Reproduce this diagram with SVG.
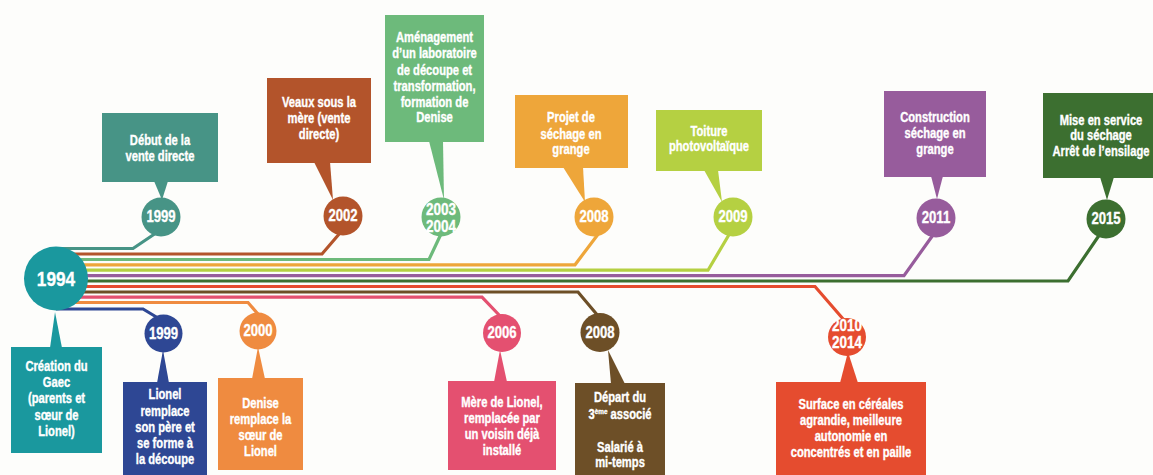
<svg xmlns="http://www.w3.org/2000/svg" width="1153" height="475" viewBox="0 0 1153 475">
<style>
.t{font-family:"Liberation Sans",Arial,sans-serif;font-weight:bold;fill:#fff;stroke:#fff;stroke-width:.35;text-anchor:middle;dominant-baseline:central;font-size:14px}
.y{font-size:16px}
.y2{font-size:16.5px}
.big{font-size:21px}
.ln{fill:none;stroke-width:3.2;stroke-linejoin:miter}
</style>
<rect width="1153" height="475" fill="#fdfdfb"/>
<g id="connectors">
<path class="ln" stroke="#479486" d="M56 248.5H133L156 233"/>
<path class="ln" stroke="#b3542b" d="M56 254H322L340 233"/>
<path class="ln" stroke="#6dba7b" d="M56 259.5H429L441 234"/>
<path class="ln" stroke="#eea63a" d="M56 264.8H575L599 233"/>
<path class="ln" stroke="#b5d042" d="M56 270.2H708L730 233"/>
<path class="ln" stroke="#975c9c" d="M56 275.6H904L933 235"/>
<path class="ln" stroke="#3c6f30" d="M56 281H1068L1100 234"/>
<path class="ln" stroke="#e54c2f" d="M56 286.5H815L844 320"/>
<path class="ln" stroke="#6d4f27" d="M56 292H578L599 317"/>
<path class="ln" stroke="#e45070" d="M56 297.2H482L501 317"/>
<path class="ln" stroke="#ef8b40" d="M56 302.5H248L258 314"/>
<path class="ln" stroke="#2e4794" d="M56 309H143L158 318"/>
</g>
<g id="n1994">
<circle cx="56" cy="278.5" r="32" fill="#1a989e"/>
<g transform="translate(56 0) scale(.82 1)"><text class="t big" x="0" y="279">1994</text></g>
</g>
<g id="creation">
<path d="M50 348L55 312L62 348Z" fill="#1a989e"/>
<rect x="11" y="347" width="91" height="106" fill="#1a989e"/>
<g transform="translate(56.5 0) scale(.8 1)">
<text class="t" x="0" y="367">Création du</text>
<text class="t" x="0" y="383">Gaec</text>
<text class="t" x="0" y="399">(parents et</text>
<text class="t" x="0" y="416">sœur de</text>
<text class="t" x="0" y="432">Lionel)</text>
</g>
</g>
<g id="n1999a">
<rect x="102" y="113" width="116" height="69" fill="#479486"/>
<path d="M154 181H168L162 200Z" fill="#479486"/>
<circle cx="161" cy="217" r="19.5" fill="#479486"/>
<g transform="translate(161 0) scale(.82 1)"><text class="t y" x="0" y="217">1999</text></g>
<g transform="translate(160 0) scale(.8 1)">
<text class="t" x="0" y="141">Début de la</text>
<text class="t" x="0" y="157">vente directe</text>
</g>
</g>
<g id="n2002">
<rect x="267" y="78" width="104" height="85" fill="#b3542b"/>
<path d="M314 162H330L333 200Z" fill="#b3542b"/>
<circle cx="343" cy="216" r="19.5" fill="#b3542b"/>
<g transform="translate(343 0) scale(.82 1)"><text class="t y" x="0" y="216">2002</text></g>
<g transform="translate(319 0) scale(.8 1)">
<text class="t" x="0" y="103">Veaux sous la</text>
<text class="t" x="0" y="119">mère (vente</text>
<text class="t" x="0" y="135">directe)</text>
</g>
</g>
<g id="n2003">
<rect x="385" y="15" width="99" height="127" fill="#6dba7b"/>
<path d="M429 141H443L444 200Z" fill="#6dba7b"/>
<circle cx="441" cy="217" r="19.5" fill="#6dba7b"/>
<g transform="translate(441 0) scale(.82 1)">
<text class="t y2" x="0" y="209">2003</text>
<text class="t y2" x="0" y="226">2004</text>
</g>
<g transform="translate(434.5 0) scale(.8 1)">
<text class="t" x="0" y="38">Aménagement</text>
<text class="t" x="0" y="54">d’un laboratoire</text>
<text class="t" x="0" y="71">de découpe et</text>
<text class="t" x="0" y="87">transformation,</text>
<text class="t" x="0" y="103">formation de</text>
<text class="t" x="0" y="118">Denise</text>
</g>
</g>
<g id="n2008a">
<rect x="515" y="95" width="113" height="73" fill="#eea63a"/>
<path d="M563 167H583L585 202Z" fill="#eea63a"/>
<circle cx="594" cy="217" r="19.5" fill="#eea63a"/>
<g transform="translate(594 0) scale(.82 1)"><text class="t y" x="0" y="217">2008</text></g>
<g transform="translate(571 0) scale(.8 1)">
<text class="t" x="0" y="118">Projet de</text>
<text class="t" x="0" y="135">séchage en</text>
<text class="t" x="0" y="150">grange</text>
</g>
</g>
<g id="n2009">
<rect x="656" y="110" width="106" height="61" fill="#b5d042"/>
<path d="M704 170H718L722 202Z" fill="#b5d042"/>
<circle cx="733" cy="217" r="19.5" fill="#b5d042"/>
<g transform="translate(733 0) scale(.82 1)"><text class="t y" x="0" y="217">2009</text></g>
<g transform="translate(709 0) scale(.8 1)">
<text class="t" x="0" y="132">Toiture</text>
<text class="t" x="0" y="147">photovoltaïque</text>
</g>
</g>
<g id="n2011">
<rect x="884" y="91" width="102" height="86" fill="#975c9c"/>
<path d="M931 176H943L937 199Z" fill="#975c9c"/>
<circle cx="936" cy="218" r="19.5" fill="#975c9c"/>
<g transform="translate(936 0) scale(.82 1)"><text class="t y" x="0" y="218">2011</text></g>
<g transform="translate(935 0) scale(.8 1)">
<text class="t" x="0" y="118">Construction</text>
<text class="t" x="0" y="134">séchage en</text>
<text class="t" x="0" y="150">grange</text>
</g>
</g>
<g id="n2015">
<rect x="1043" y="93" width="112" height="85" fill="#3c6f30"/>
<path d="M1100 177H1114L1107 200Z" fill="#3c6f30"/>
<circle cx="1106" cy="219" r="19.5" fill="#3c6f30"/>
<g transform="translate(1106 0) scale(.82 1)"><text class="t y" x="0" y="219">2015</text></g>
<g transform="translate(1101 0) scale(.8 1)">
<text class="t" x="0" y="121">Mise en service</text>
<text class="t" x="0" y="136">du séchage</text>
<text class="t" x="0" y="152">Arrêt de l’ensilage</text>
</g>
</g>
<g id="n1999b">
<circle cx="163.5" cy="333.5" r="19" fill="#2e4794"/>
<path d="M157 383L163 350L169 383Z" fill="#2e4794"/>
<rect x="123" y="382" width="84" height="95" fill="#2e4794"/>
<g transform="translate(163.5 0) scale(.82 1)"><text class="t y" x="0" y="333.5">1999</text></g>
<g transform="translate(165 0) scale(.8 1)">
<text class="t" x="0" y="395">Lionel</text>
<text class="t" x="0" y="412">remplace</text>
<text class="t" x="0" y="428">son père et</text>
<text class="t" x="0" y="444">se forme à</text>
<text class="t" x="0" y="460">la découpe</text>
</g>
</g>
<g id="n2000">
<circle cx="258" cy="331" r="18.5" fill="#ef8b40"/>
<path d="M252 379L258 347L265 379Z" fill="#ef8b40"/>
<rect x="218" y="378" width="85" height="92" fill="#ef8b40"/>
<g transform="translate(258 0) scale(.82 1)"><text class="t y" x="0" y="331">2000</text></g>
<g transform="translate(260.5 0) scale(.8 1)">
<text class="t" x="0" y="404">Denise</text>
<text class="t" x="0" y="420">remplace la</text>
<text class="t" x="0" y="436">sœur de</text>
<text class="t" x="0" y="452">Lionel</text>
</g>
</g>
<g id="n2006">
<circle cx="502" cy="333" r="19" fill="#e45070"/>
<path d="M494 382L500 350L507 382Z" fill="#e45070"/>
<rect x="448" y="381" width="108" height="89" fill="#e45070"/>
<g transform="translate(502 0) scale(.82 1)"><text class="t y" x="0" y="333">2006</text></g>
<g transform="translate(502 0) scale(.8 1)">
<text class="t" x="0" y="403">Mère de Lionel,</text>
<text class="t" x="0" y="419">remplacée par</text>
<text class="t" x="0" y="435">un voisin déjà</text>
<text class="t" x="0" y="451">installé</text>
</g>
</g>
<g id="n2008b">
<circle cx="600" cy="332.5" r="19.5" fill="#6d4f27"/>
<path d="M611 384L608 350L625 384Z" fill="#6d4f27"/>
<rect x="575" y="383" width="90" height="94" fill="#6d4f27"/>
<g transform="translate(600 0) scale(.82 1)"><text class="t y" x="0" y="332.5">2008</text></g>
<g transform="translate(620 0) scale(.8 1)">
<text class="t" x="0" y="398">Départ du</text>
<text class="t" x="0" y="415">3<tspan font-size="8" dy="-4">ème</tspan><tspan dy="4"> associé</tspan></text>
<text class="t" x="0" y="448">Salarié à</text>
<text class="t" x="0" y="463">mi-temps</text>
</g>
</g>
<g id="n2010">
<circle cx="847" cy="337" r="19" fill="#e54c2f"/>
<path d="M840 383L848 352L858 383Z" fill="#e54c2f"/>
<rect x="776" y="382" width="150" height="95" fill="#e54c2f"/>
<g transform="translate(847 0) scale(.82 1)">
<text class="t y2" x="0" y="325">2010</text>
<text class="t y2" x="0" y="342">2014</text>
</g>
<g transform="translate(851 0) scale(.8 1)">
<text class="t" x="0" y="405">Surface en céréales</text>
<text class="t" x="0" y="421">agrandie, meilleure</text>
<text class="t" x="0" y="437">autonomie en</text>
<text class="t" x="0" y="453">concentrés et en paille</text>
</g>
</g>
</svg>
